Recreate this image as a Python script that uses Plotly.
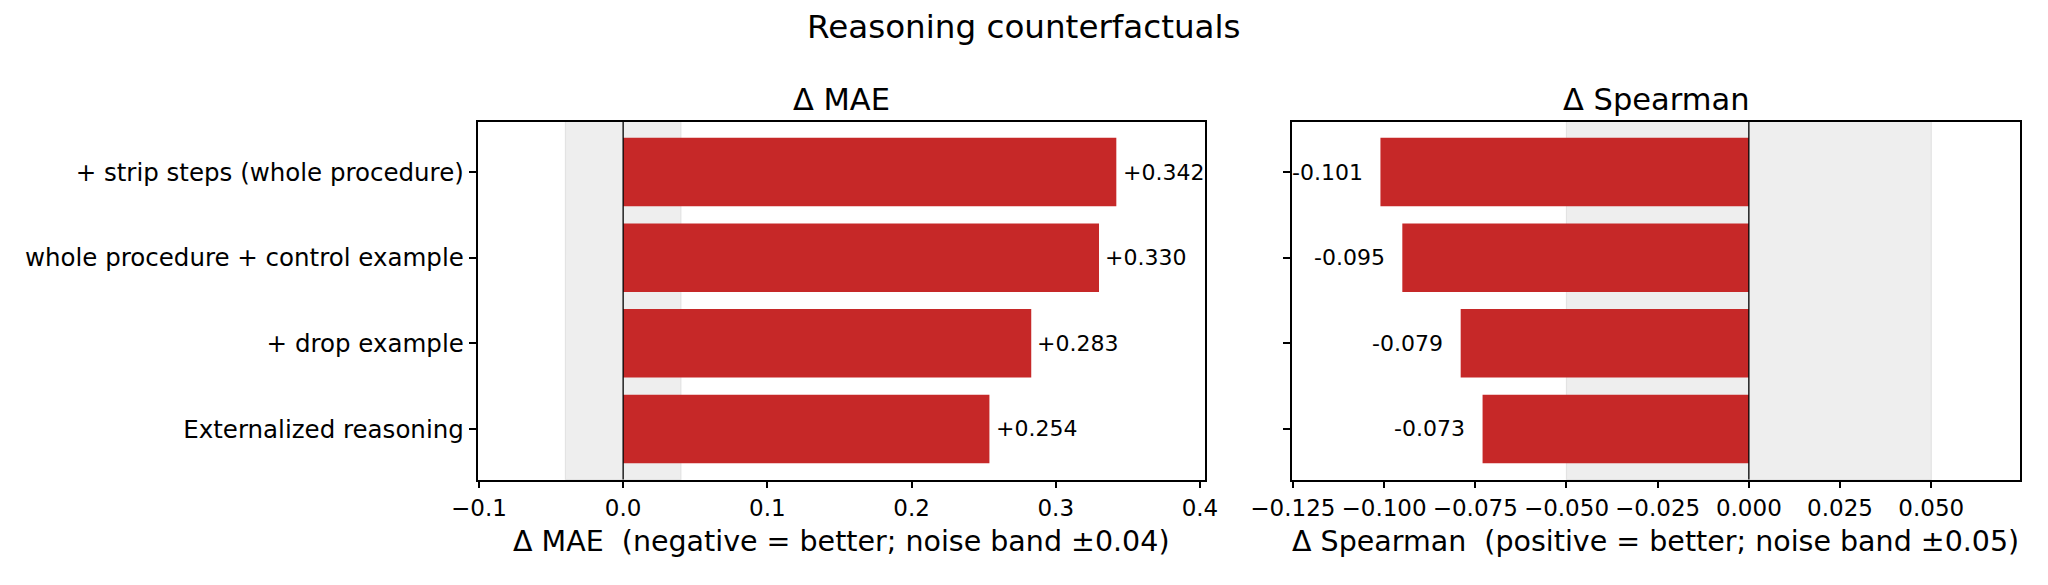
import plotly.graph_objects as go

# ---- data ----
categories = [
    "Externalized reasoning",
    "+ drop example",
    "whole procedure + control example",
    "+ strip steps (whole procedure)",
]
delta_mae = [0.254, 0.283, 0.330, 0.342]
delta_spearman = [-0.073, -0.079, -0.095, -0.101]
mae_ticks = [-0.1, 0.0, 0.1, 0.2, 0.3, 0.4]
spearman_ticks = [-0.125, -0.100, -0.075, -0.050, -0.025, 0.000, 0.025, 0.050]
mae_noise = 0.04
spearman_noise = 0.05

suptitle = "Reasoning counterfactuals"
title_mae = "Δ MAE"
title_sp = "Δ Spearman"
xlabel_mae = "Δ MAE \u00a0(negative = better; noise band ±0.04)"
xlabel_sp = "Δ Spearman \u00a0(positive = better; noise band ±0.05)"

# ---- styling ----
W, H = 2048, 585
OFF = 8  # page body margin of the browser
FONT = "DejaVu Sans"
RED = "#c62828"
BAND = "#eeeeee"
BAND_EDGE = "#e3e3e3"


def fx(px):
    return (px - OFF) / W


def fy(py):
    return 1 - (py - OFF) / H


ypos = list(range(len(categories)))

fig = go.Figure()
fig.add_trace(go.Bar(x=delta_mae, y=ypos, orientation="h", width=0.8,
                     marker=dict(color=RED, line=dict(width=0)),
                     xaxis="x", yaxis="y", showlegend=False, hoverinfo="skip"))
fig.add_trace(go.Bar(x=delta_spearman, y=ypos, orientation="h", width=0.8,
                     marker=dict(color=RED, line=dict(width=0)),
                     xaxis="x2", yaxis="y2", showlegend=False, hoverinfo="skip"))

axis_common = dict(
    showline=True, linecolor="black", linewidth=1.6, mirror=True,
    ticks="outside", ticklen=7, tickwidth=1.6, tickcolor="black",
    showgrid=False, zeroline=False, automargin=False,
)
ydom = [fy(479.5), fy(121.5)]
yrange = [-0.59, len(categories) - 1 + 0.59]

fig.update_layout(
    width=W, height=H,
    margin=dict(l=0, r=0, t=0, b=0),
    paper_bgcolor="white", plot_bgcolor="white",
    font=dict(family=FONT, color="black"),
    xaxis=dict(domain=[fx(477.5), fx(1205)], range=[-0.101, 0.4035], anchor="y",
               tickvals=mae_ticks, tickformat=".1f",
               tickfont=dict(size=23, family=FONT, color="black"), **axis_common),
    yaxis=dict(domain=ydom, range=yrange, anchor="x",
               tickvals=ypos, ticktext=categories,
               tickfont=dict(size=24.5, family=FONT, color="black"), **axis_common),
    xaxis2=dict(domain=[fx(1291.8), fx(2019.5)], range=[-0.1253, 0.0742], anchor="y2",
                tickvals=spearman_ticks, tickformat=".3f",
                tickfont=dict(size=23, family=FONT, color="black"), **axis_common),
    yaxis2=dict(domain=ydom, range=yrange, anchor="x2",
                tickvals=ypos, showticklabels=False, **axis_common),
)

# noise bands and zero lines
for xr, yr, band in (("x", "y domain", mae_noise), ("x2", "y2 domain", spearman_noise)):
    fig.add_shape(type="rect", xref=xr, yref=yr, x0=-band, x1=band, y0=0, y1=1,
                  fillcolor=BAND, line=dict(color=BAND_EDGE, width=1.2), layer="below")
    fig.add_shape(type="line", xref=xr, yref=yr, x0=0, x1=0, y0=0, y1=1,
                  line=dict(color="black", width=1.3), layer="above")

# value labels
for xr, yr, vals in (("x", "y", delta_mae), ("x2", "y2", delta_spearman)):
    for yi, v in zip(ypos, vals):
        pos = v >= 0
        fig.add_annotation(xref=xr, yref=yr, x=v + (0.005 if pos else -0.005), y=yi,
                           text=f"{v:+.3f}", showarrow=False,
                           xanchor="left" if pos else "right", yanchor="middle",
                           xshift=-3 if pos else 3,
                           font=dict(size=22, family=FONT, color="black"))

# titles
fig.add_annotation(xref="paper", yref="paper", x=fx(1024), y=fy(27), text=suptitle,
                   showarrow=False, xanchor="center", yanchor="middle",
                   font=dict(size=32.6, family=FONT, color="black"))
fig.add_annotation(xref="paper", yref="paper", x=fx((477.5 + 1205) / 2), y=fy(99),
                   text=title_mae, showarrow=False, xanchor="center", yanchor="middle",
                   font=dict(size=30.5, family=FONT, color="black"))
fig.add_annotation(xref="paper", yref="paper", x=fx((1291.8 + 2019.5) / 2), y=fy(99),
                   text=title_sp, showarrow=False, xanchor="center", yanchor="middle",
                   font=dict(size=30.5, family=FONT, color="black"))
fig.add_annotation(xref="paper", yref="paper", x=fx((477.5 + 1205) / 2), y=fy(541),
                   text=xlabel_mae, showarrow=False, xanchor="center", yanchor="middle",
                   font=dict(size=28.5, family=FONT, color="black"))
fig.add_annotation(xref="paper", yref="paper", x=fx((1291.8 + 2019.5) / 2), y=fy(541),
                   text=xlabel_sp, showarrow=False, xanchor="center", yanchor="middle",
                   font=dict(size=28.5, family=FONT, color="black"))

fig.write_html("out.html")
